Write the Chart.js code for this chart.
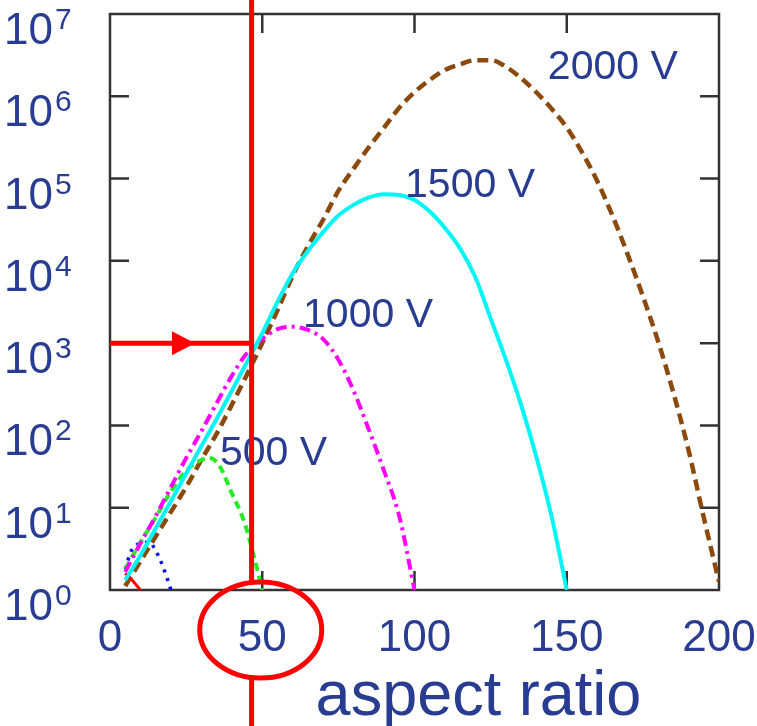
<!DOCTYPE html>
<html>
<head>
<meta charset="utf-8">
<title>aspect ratio</title>
<script src="https://cdn.jsdelivr.net/npm/chart.js@4.4.1/dist/chart.umd.min.js"></script>
<style>
  html, body { margin: 0; padding: 0; background: #fff; }
  canvas { display: block; }
</style>
</head>
<body>
<canvas id="chart" width="757" height="726"></canvas>
<script>
// axis ticks
const xTicks = [0, 50, 100, 150, 200];
const yTicks = [1, 10, 100, 1e3, 1e4, 1e5, 1e6, 1e7];
const xTitle = 'aspect ratio';

// curves (x = aspect ratio, y = value on log axis)
const cyanX = [5, 10, 15, 20, 25, 30, 35, 40, 45, 50, 55, 60, 65, 70, 75, 80, 85, 90, 95, 100,
  105, 110, 115, 120, 125, 130, 135, 140, 145, 150];
const cyanY = [1.32, 2.63, 5.6, 12, 26, 56, 120, 263, 590, 1320, 3160, 7080, 13200, 22400, 35500,
  47900, 58900, 64600, 63100, 55000, 39800, 25100, 14100, 6310, 2000, 631, 178, 41.7, 7.9, 1];

const brownX = [5, 10, 15, 20, 25, 30, 35, 40, 45, 50, 55, 60, 65, 70, 75, 80, 85, 90, 95, 100,
  105, 110, 115, 120, 125, 130, 135, 140, 145, 150, 155, 160, 165, 170, 175, 180, 185, 190, 195, 200];
const brownY = [1.12, 2.24, 4.47, 8.9, 17.8, 38, 79, 178, 417, 1000, 2510, 6610, 15100, 31600, 70800,
  132000, 240000, 417000, 724000, 1120000, 1580000, 2090000, 2450000, 2750000, 2750000, 2290000,
  1660000, 1120000, 708000, 417000, 209000, 93300, 35500, 12000, 3720, 1050, 251, 50, 7.6, 1.26];

const magentaX = [5, 10, 15, 20, 25, 30, 35, 40, 45, 50, 55, 60, 65, 70, 75, 80, 85, 90, 95, 100];
const magentaY = [1.66, 3.7, 7.9, 17.8, 40, 85, 186, 400, 760, 1120, 1480, 1580, 1450, 1120, 630,
  263, 89, 28, 7.9, 1];

const greenX = [5, 10, 15, 20, 25, 30, 33, 36, 40, 44, 47, 50];
const greenY = [1.8, 3.8, 7.6, 15.8, 28, 38, 40, 32, 15, 6.9, 2.8, 1];

const blueX = [5, 7, 10, 13, 15, 17, 19, 20];
const blueY = [1.8, 3.0, 3.7, 3.8, 3.0, 2.1, 1.3, 1.0];

const redX = [5, 7, 10];
const redY = [1.6, 1.35, 1.0];

// curve names written next to the curves
const curveNames = ['2000 V', '1500 V', '1000 V', '500 V'];
const nameX = [143.8, 96.9, 63.4, 36.1];
const nameY = [2.2e6, 8.2e4, 2140, 45];

// red marker: aspect ratio 46.5 reached at 10^3
const markX = 46.5;
const markY = 1000;

const textColor = '#283c92';
const narrow = '"Liberation Sans Narrow", "Liberation Sans", Arial, sans-serif';
const sans = '"Liberation Sans", Arial, sans-serif';

const pts = (xs, ys) => xs.map((v, i) => ({ x: v, y: ys[i] }));

function line(xs, ys, color, width, dash) {
  return {
    data: pts(xs, ys),
    borderColor: color,
    borderWidth: width,
    borderDash: dash,
    pointRadius: 0,
    fill: false,
    cubicInterpolationMode: 'monotone'
  };
}

// frame with inner ticks, drawn under the curves
const framePlugin = {
  id: 'frame',
  beforeDatasetsDraw(chart) {
    const { ctx, chartArea: a, scales: { x, y } } = chart;
    ctx.save();
    ctx.strokeStyle = '#333';
    ctx.lineWidth = 2.5;
    ctx.strokeRect(a.left, a.top, a.right - a.left, a.bottom - a.top);
    ctx.beginPath();
    yTicks.slice(1, -1).forEach(v => {
      const py = y.getPixelForValue(v);
      ctx.moveTo(a.left, py); ctx.lineTo(a.left + 19, py);
      ctx.moveTo(a.right, py); ctx.lineTo(a.right - 19, py);
    });
    xTicks.slice(1, -1).forEach(v => {
      const px = x.getPixelForValue(v);
      ctx.moveTo(px, a.top); ctx.lineTo(px, a.top + 19);
      ctx.moveTo(px, a.bottom); ctx.lineTo(px, a.bottom - 19);
    });
    ctx.stroke();
    ctx.restore();
  }
};

// y labels as 10^n, axis title, curve names and the red marker
const overlayPlugin = {
  id: 'overlay',
  afterDatasetsDraw(chart) {
    const { ctx, chartArea: a, scales: { x, y } } = chart;
    ctx.save();
    ctx.fillStyle = textColor;
    ctx.textBaseline = 'alphabetic';
    yTicks.forEach(v => {
      const py = y.getPixelForValue(v);
      ctx.font = '44px ' + narrow;
      ctx.textAlign = 'right';
      ctx.fillText('10', a.left - 57, py + 30);
      ctx.font = '30px ' + narrow;
      ctx.textAlign = 'left';
      ctx.fillText(String(Math.round(Math.log10(v))), a.left - 55, py + 15);
    });

    // axis title sits right of centre, clear of the red marker
    ctx.font = '63px ' + sans;
    ctx.textAlign = 'center';
    ctx.fillText(xTitle, x.getPixelForValue(121), a.bottom + 125);

    ctx.font = '41px ' + sans;
    ctx.textAlign = 'left';
    ctx.textBaseline = 'middle';
    curveNames.forEach((t, i) => {
      ctx.fillText(t, x.getPixelForValue(nameX[i]), y.getPixelForValue(nameY[i]));
    });
    ctx.restore();
  },
  afterDraw(chart) {
    const { ctx, chartArea: a, scales: { x, y } } = chart;
    const mx = x.getPixelForValue(markX);
    const my = y.getPixelForValue(markY);
    ctx.save();
    ctx.strokeStyle = '#ff0000';
    ctx.fillStyle = '#ff0000';
    ctx.lineWidth = 5;

    ctx.beginPath();
    ctx.moveTo(mx, 0);
    ctx.lineTo(mx, a.bottom - 8);
    ctx.moveTo(a.left, my);
    ctx.lineTo(mx, my);
    ctx.stroke();

    // arrow head
    const tip = a.left + (mx - a.left) * 0.6;
    ctx.beginPath();
    ctx.moveTo(tip, my);
    ctx.lineTo(tip - 23, my - 12);
    ctx.lineTo(tip - 23, my + 12);
    ctx.closePath();
    ctx.fill();

    // circle round the 50 tick label
    const cx = x.getPixelForValue(49.5);
    const cy = a.bottom + 40;
    ctx.beginPath();
    ctx.ellipse(cx, cy, 61, 48, 0, 0, Math.PI * 2);
    ctx.stroke();

    ctx.beginPath();
    ctx.moveTo(mx, cy + 48);
    ctx.lineTo(mx, chart.height);
    ctx.stroke();
    ctx.restore();
  }
};

new Chart(document.getElementById('chart'), {
  type: 'line',
  data: {
    datasets: [
      line(cyanX, cyanY, '#00f5f5', 4, []),
      line(magentaX, magentaY, '#ff00ff', 4, [11, 5, 3, 5]),
      line(greenX, greenY, '#22ee22', 4, [8, 5]),
      line(blueX, blueY, '#0000ff', 3.5, [3, 6]),
      line(redX, redY, '#ff0000', 3, []),
      line(brownX, brownY, '#8b4a0b', 4.5, [11, 6])
    ]
  },
  options: {
    responsive: false,
    animation: false,
    devicePixelRatio: 1,
    layout: { padding: { left: 110, right: 38, top: 14, bottom: 0 } },
    plugins: { legend: { display: false }, tooltip: { enabled: false } },
    scales: {
      x: {
        type: 'linear',
        min: 0,
        max: 200,
        afterBuildTicks: s => { s.ticks = xTicks.map(v => ({ value: v })); },
        afterFit: s => { s.paddingLeft = 0; s.paddingRight = 0; s.height = 136; },
        grid: { display: false, drawTicks: false },
        border: { display: false },
        ticks: {
          color: textColor,
          padding: 27,
          maxRotation: 0,
          font: { family: narrow, size: 44, lineHeight: 1.0 }
        },
        title: { display: false }
      },
      y: {
        type: 'logarithmic',
        min: 1,
        max: 1e7,
        display: false
      }
    }
  },
  plugins: [framePlugin, overlayPlugin]
});
</script>
</body>
</html>
